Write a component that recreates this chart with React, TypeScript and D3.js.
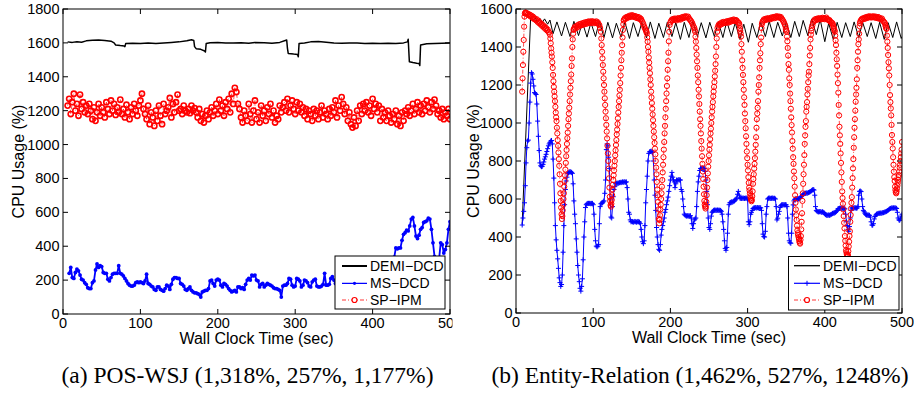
import React, { useEffect } from 'react';
import * as d3 from 'd3';

type Pt = [number, number];

// ---------- shared labels / ticks ----------
const X_TICKS = [0, 100, 200, 300, 400, 500];
const Y_TICKS_A = [0, 200, 400, 600, 800, 1000, 1200, 1400, 1600, 1800];
const Y_TICKS_B = [0, 200, 400, 600, 800, 1000, 1200, 1400, 1600];
const LEGEND_LABELS = ['DEMI\u2212DCD', 'MS\u2212DCD', 'SP\u2212IPM'];
const X_LABEL = 'Wall Clock Time (sec)';
const Y_LABEL = 'CPU Usage (%)';
const CAPTION_A = '(a) POS-WSJ (1,318%, 257%, 1,177%)';
const CAPTION_B = '(b) Entity-Relation (1,462%, 527%, 1248%)';

// ---------- panel (a) POS-WSJ ----------
const DEMI_A: Pt[] = [
  [6, 1606], [12, 1603], [18, 1607], [24, 1604], [30, 1612], [38, 1615], [46, 1617], [54, 1614], [62, 1610],
  [66, 1600], [68, 1588], [74, 1584], [79, 1582], [80, 1578], [81, 1596], [90, 1598], [100, 1596], [110, 1599],
  [120, 1597], [130, 1599], [140, 1602], [150, 1606], [160, 1612], [166, 1618], [169, 1614], [170, 1578],
  [172, 1566], [178, 1562], [183, 1552], [184, 1546], [185, 1596], [190, 1601], [200, 1602], [210, 1600],
  [220, 1599], [230, 1601], [240, 1598], [248, 1602], [260, 1601], [270, 1598], [280, 1603], [289, 1617],
  [290, 1568], [291, 1538], [298, 1534], [303, 1532], [304, 1518], [305, 1597], [312, 1600], [320, 1606],
  [330, 1608], [340, 1604], [350, 1600], [360, 1598], [370, 1600], [380, 1599], [390, 1597], [400, 1598],
  [410, 1596], [420, 1598], [430, 1596], [440, 1600], [445, 1606], [446, 1621], [447.5, 1489], [452, 1484],
  [457, 1480], [460, 1478], [461, 1466], [462, 1588], [470, 1595], [480, 1597], [490, 1598], [500, 1600],
];

const MS_A_T0 = 8;
const MS_A_DT = 2;
const MS_A = [
  240, 275, 215, 210, 245, 265, 255, 230, 205, 200,
  185, 175, 155, 150, 150, 185, 195, 260, 295, 275,
  285, 280, 245, 240, 240, 205, 195, 215, 235, 240,
  240, 240, 285, 240, 235, 225, 210, 195, 180, 170,
  165, 165, 170, 185, 190, 185, 190, 185, 180, 195,
  235, 180, 175, 165, 160, 145, 140, 160, 160, 145,
  140, 135, 150, 170, 165, 145, 175, 205, 215, 215,
  210, 210, 180, 175, 165, 145, 140, 150, 160, 140,
  130, 125, 125, 120, 115, 100, 130, 135, 140, 140,
  150, 195, 200, 180, 165, 200, 205, 200, 170, 160,
  180, 175, 165, 150, 140, 130, 135, 140, 130, 160,
  160, 150, 155, 145, 175, 200, 210, 200, 230, 225,
  230, 200, 195, 160, 175, 180, 160, 170, 180, 175,
  170, 165, 155, 150, 150, 145, 140, 100, 165, 170,
  170, 180, 210, 205, 170, 160, 165, 210, 205, 195,
  160, 170, 200, 195, 185, 165, 160, 190, 200, 205,
  165, 160, 160, 165, 175, 240, 170, 170, 175, 210,
  220, 200, 180, 175, 170, 180, 175, 170, 180, 185,
  175, 180, 190, 185, 180, 175, 180, 190, 200, 195,
  200, 210, 220, 215, 210, 230, 240, 235, 250, 260,
  255, 250, 265, 280, 270, 290, 300, 310, 320, 330,
  335, 390, 385, 390, 390, 435, 470, 480, 495, 490,
  520, 560, 570, 520, 460, 445, 465, 500, 510, 540,
  545, 550, 565, 560, 500, 420, 340, 300, 290, 330,
  420, 410, 360, 380, 420, 500, 545,
];

const SP_A_T0 = 6;
const SP_A_DT = 2;
const SP_A = [
  1230, 1270, 1180, 1250, 1300, 1200, 1240, 1170, 1295, 1210,
  1250, 1190, 1230, 1180, 1240, 1200, 1150, 1220, 1140, 1190,
  1240, 1170, 1220, 1190, 1160, 1250, 1210, 1180, 1260, 1200,
  1240, 1175, 1220, 1190, 1265, 1180, 1210, 1160, 1235, 1190,
  1150, 1220, 1180, 1240, 1200, 1170, 1230, 1260, 1300, 1210,
  1180, 1150, 1230, 1120, 1190, 1160, 1110, 1200, 1140, 1230,
  1170, 1120, 1240, 1180, 1200, 1220, 1275, 1160, 1240, 1190,
  1250, 1295, 1200, 1210, 1180, 1230, 1200, 1190, 1210, 1185,
  1230, 1200, 1215, 1190, 1160, 1210, 1140, 1180, 1130, 1170,
  1200, 1150, 1190, 1220, 1170, 1200, 1240, 1180, 1265, 1200,
  1230, 1170, 1250, 1210, 1270, 1190, 1300, 1240, 1335, 1310,
  1240, 1210, 1160, 1130, 1200, 1170, 1140, 1240, 1180, 1130,
  1200, 1260, 1150, 1190, 1130, 1230, 1170, 1200, 1140, 1220,
  1180, 1240, 1160, 1200, 1130, 1170, 1150, 1230, 1190, 1220,
  1250, 1200, 1270, 1190, 1230, 1260, 1210, 1180, 1250, 1200,
  1240, 1190, 1220, 1170, 1210, 1150, 1200, 1180, 1140, 1210,
  1170, 1200, 1150, 1190, 1230, 1160, 1200, 1180, 1150, 1210,
  1170, 1220, 1190, 1260, 1160, 1230, 1200, 1280, 1240, 1180,
  1220, 1140, 1190, 1120, 1100, 1160, 1110, 1200, 1140, 1230,
  1180, 1240, 1200, 1250, 1190, 1230, 1170, 1270, 1210, 1240,
  1190, 1230, 1140, 1210, 1160, 1190, 1140, 1200, 1170, 1130,
  1180, 1150, 1200, 1120, 1170, 1110, 1190, 1140, 1200, 1180,
  1220, 1170, 1200, 1240, 1180, 1210, 1250, 1190, 1230, 1180,
  1240, 1200, 1260, 1220, 1190, 1250, 1210, 1265, 1230, 1180,
  1200, 1160, 1210, 1150, 1190, 1170, 1210, 1150,
];

// ---------- panel (b) Entity-Relation ----------
const DEMI_B: Pt[] = [
  [8, 470], [19, 1558], [22, 1538], [25, 1552], [28, 1530], [31, 1550], [34, 1528], [37, 1548], [41, 1520],
  [44, 1542], [48, 1470], [53, 1532], [59, 1458], [64, 1530], [70, 1455], [75, 1535], [81, 1460], [86, 1530],
  [92, 1452], [97, 1528], [103, 1455], [108, 1535], [114, 1450], [119, 1530], [125, 1448], [130, 1525],
  [136, 1452], [141, 1532], [147, 1445], [152, 1528], [158, 1455], [163, 1530], [169, 1448], [174, 1532],
  [180, 1445], [185, 1525], [191, 1450], [196, 1530], [202, 1455], [207, 1528], [213, 1440], [218, 1530],
  [224, 1450], [229, 1535], [235, 1455], [240, 1528], [246, 1448], [251, 1530], [257, 1455], [262, 1532],
  [268, 1450], [273, 1535], [279, 1455], [284, 1528], [290, 1440], [295, 1520], [301, 1425], [306, 1525],
  [312, 1450], [317, 1530], [323, 1455], [328, 1535], [334, 1450], [339, 1530], [345, 1458], [350, 1532],
  [356, 1450], [361, 1535], [367, 1455], [372, 1540], [378, 1460], [383, 1548], [389, 1465], [394, 1545],
  [400, 1428], [405, 1525], [411, 1440], [416, 1530], [422, 1450], [427, 1528], [433, 1455], [438, 1532],
  [444, 1450], [449, 1530], [455, 1455], [460, 1528], [466, 1445], [471, 1530], [477, 1440], [482, 1528],
  [488, 1450], [493, 1532], [499, 1445], [500, 1455],
];

const MS_B_T0 = 8;
const MS_B_DT = 1;
const MS_B = [
  463, 500, 535, 580, 670, 790, 870, 905, 910, 1000,
  1110, 1210, 1265, 1258, 1230, 1195, 1160, 1156, 1150, 1100,
  1010, 930, 855, 790, 775, 770, 772, 782, 795, 810,
  822, 835, 850, 865, 880, 890, 898, 905, 908, 890,
  810, 710, 580, 460, 385, 330, 285, 235, 185, 160,
  140, 150, 200, 320, 460, 570, 650, 695, 715, 733,
  738, 742, 744, 742, 740, 735, 680, 590, 520, 470,
  390, 320, 250, 200, 165, 130, 115, 140, 180, 280,
  400, 480, 555, 570, 575, 577, 577, 577, 577, 575,
  577, 577, 570, 520, 440, 380, 352, 348, 352, 360,
  470, 560, 575, 578, 580, 585, 590, 630, 700, 860,
  890, 880, 820, 760, 600, 505, 500, 560, 612, 650,
  665, 680, 682, 684, 682, 684, 686, 688, 686, 688,
  690, 688, 690, 690, 688, 690, 660, 600, 530, 520,
  490, 480, 482, 480, 478, 480, 482, 480, 478, 480,
  482, 480, 478, 470, 440, 400, 375, 365, 380, 460,
  580, 650, 720, 800, 840, 848, 850, 852, 848, 845,
  800, 700, 620, 540, 450, 400, 360, 335, 330, 360,
  410, 440, 460, 480, 500, 530, 545, 570, 590, 610,
  640, 670, 700, 720, 740, 715, 700, 690, 660, 680,
  700, 698, 700, 702, 700, 700, 650, 640, 600, 560,
  520, 515, 512, 510, 512, 510, 512, 510, 512, 500,
  470, 445, 470, 490, 495, 500, 560, 640, 690, 720,
  750, 760, 762, 762, 760, 762, 760, 745, 700, 640,
  570, 500, 450, 440, 470, 510, 530, 535, 540, 542,
  540, 542, 540, 542, 540, 542, 540, 540, 535, 520,
  480, 440, 380, 340, 330, 345, 420, 520, 570, 580,
  582, 585, 583, 585, 588, 590, 595, 600, 605, 625,
  640, 620, 605, 604, 603, 604, 605, 604, 603, 604,
  605, 604, 600, 480, 465, 480, 520, 530, 540, 550,
  553, 553, 555, 553, 553, 555, 553, 553, 555, 553,
  540, 470, 415, 402, 400, 430, 520, 560, 600, 604,
  605, 604, 603, 604, 605, 604, 603, 604, 600, 560,
  490, 499, 520, 535, 555, 565, 569, 570, 569, 570,
  569, 570, 569, 560, 500, 420, 380, 370, 367, 420,
  520, 569, 590, 598, 600, 602, 600, 602, 600, 602,
  605, 612, 615, 620, 625, 628, 630, 630, 632, 630,
  632, 634, 636, 638, 640, 645, 648, 650, 647, 620,
  560, 540, 535, 533, 532, 533, 534, 532, 530, 533,
  530, 528, 522, 518, 515, 514, 515, 516, 514, 516,
  518, 520, 524, 526, 525, 528, 530, 535, 540, 548,
  550, 551, 552, 550, 551, 552, 550, 551, 548, 520,
  480, 460, 440, 430, 455, 500, 540, 553, 553, 552,
  553, 554, 553, 552, 553, 560, 620, 640, 642, 639,
  600, 560, 540, 533, 525, 518, 516, 515, 516, 515,
  514, 505, 480, 463, 462, 470, 495, 508, 515, 520,
  522, 524, 525, 525, 526, 525, 526, 528, 528, 530,
  532, 533, 535, 538, 540, 545, 548, 550, 552, 553,
  552, 553, 553, 552, 553, 550, 530, 500, 490, 488,
  495, 510, 520,
];

// SP-IPM (b): segments of [start time, sample step, values]
const SP_B_RISE = [1165, 1235, 1305, 1375, 1437, 1507, 1560, 1577, 1580, 1582, 1578];
const SP_B_PLAT1 = [1578, 1570, 1574, 1566, 1570, 1560, 1565, 1555, 1560, 1548, 1552, 1545, 1540, 1546, 1532,
  1538, 1525, 1530, 1518, 1522, 1510, 1515, 1503, 1508, 1495, 1500, 1488, 1492, 1480, 1476];
const SP_B_DIP1 = [1465, 1445, 1420, 1393, 1370, 1350, 1320, 1290, 1253, 1220, 1190, 1165, 1140, 1115, 1085, 1055,
  1030, 1010, 975, 945, 910, 880, 845, 810, 775, 730, 680, 630, 590, 555, 520, 495,
  510, 540, 570, 600, 630, 665, 695, 725, 755, 790, 825, 858, 890, 920, 950, 985, 1020, 1050, 1080, 1115,
  1150, 1185, 1220, 1255, 1300, 1340, 1400, 1440, 1470, 1490];
const SP_B_PLAT2 = [1495, 1505, 1498, 1510, 1502, 1515, 1508, 1520, 1512, 1522, 1515, 1525, 1518, 1528, 1520,
  1530, 1522, 1532, 1525, 1535, 1528, 1533, 1526, 1536, 1530, 1534, 1525, 1532, 1528, 1535, 1526, 1530, 1520,
  1515, 1500];
const SP_B_DIP2 = [1480, 1445, 1410, 1375, 1340, 1305, 1270, 1235, 1200, 1165, 1130, 1095, 1060, 1025, 990, 955,
  919, 880, 840, 800, 760, 709, 660, 612, 590, 568, 560, 575, 595,
  620, 650, 675, 700, 725, 750, 775, 800, 830, 856, 884, 910, 940, 965, 995, 1025, 1055, 1085, 1115, 1145,
  1175, 1210, 1250, 1290, 1330, 1370, 1410, 1450, 1490, 1520, 1540];
const SP_B_PLAT3 = [1545, 1552, 1548, 1558, 1553, 1560, 1556, 1565, 1558, 1562, 1568, 1560, 1565, 1558, 1563,
  1555, 1560, 1552, 1558, 1550, 1555, 1545, 1548, 1538, 1530, 1520, 1508, 1498];
const SP_B_DIP3 = [1490, 1485, 1480, 1472, 1450, 1428, 1400, 1375, 1345, 1318, 1290, 1262, 1230, 1200, 1165, 1135,
  1105, 1075, 1045, 1015, 985, 955, 925, 895, 865, 835, 800, 765, 730, 690, 650, 620, 585, 545, 495, 472, 490, 515,
  545, 570, 600, 630, 665, 700, 740, 780, 820, 860, 900, 945, 985, 1030, 1075, 1115, 1155, 1195, 1235, 1280,
  1325, 1370, 1430, 1480, 1516];
const SP_B_PLAT4 = [1530, 1538, 1545, 1540, 1548, 1542, 1550, 1545, 1540, 1548, 1552, 1546, 1550, 1544, 1555,
  1550, 1558, 1552, 1560, 1556, 1562, 1558, 1555, 1560, 1550, 1546, 1540, 1535, 1528, 1518, 1508];
const SP_B_DIP4 = [1500, 1490, 1481, 1455, 1428, 1395, 1360, 1325, 1290, 1250, 1215, 1175, 1140, 1100, 1060, 1020,
  985, 945, 905, 865, 825, 785, 745, 705, 665, 625, 590, 570, 560, 550, 560, 585, 620, 660, 700, 735, 770, 800,
  830, 860, 885, 915, 945, 970, 1000, 1030, 1060, 1085, 1110, 1140, 1165, 1190, 1215, 1245, 1275, 1310, 1350,
  1400, 1445, 1480];
const SP_B_PLAT5 = [1500, 1512, 1520, 1515, 1525, 1520, 1530, 1524, 1532, 1528, 1526, 1534, 1530, 1536, 1528,
  1538, 1532, 1540, 1535, 1542, 1538, 1545, 1540, 1536, 1542, 1538, 1532, 1528];
const SP_B_DIP5 = [1525, 1515, 1498, 1485, 1470, 1455, 1415, 1375, 1330, 1290, 1253, 1215, 1175, 1135, 1095, 1050,
  1010, 972, 930, 890, 850, 815, 780, 750, 715, 685, 660, 645, 630, 615, 603, 595, 588, 595, 615, 640, 680, 705,
  730, 760, 785, 815, 849, 885, 925, 975, 1020, 1050, 1080, 1115, 1165, 1200, 1240, 1290, 1330, 1367, 1415,
  1450, 1500, 1520];
const SP_B_PLAT6 = [1530, 1538, 1545, 1540, 1548, 1543, 1550, 1546, 1552, 1548, 1545, 1552, 1556, 1550, 1555,
  1558, 1552, 1560, 1555, 1562, 1558, 1556, 1560, 1554, 1558, 1550, 1545, 1538, 1530, 1520];
const SP_B_DIP6 = [1510, 1495, 1488, 1481, 1455, 1430, 1395, 1355, 1310, 1280, 1235, 1200, 1155, 1115, 1075, 1030,
  989, 950, 905, 865, 820, 785, 745, 709, 665, 620, 580, 545, 515, 490, 460, 435, 420, 410, 400, 390, 378, 370,
  365, 385, 405, 440, 480, 525, 590, 630, 680, 730, 780, 831, 890, 935, 980, 1010, 1060, 1085, 1110, 1150, 1180,
  1215, 1250, 1270, 1310, 1355, 1395, 1440, 1465, 1485, 1500];
const SP_B_PLAT7 = [1515, 1530, 1538, 1545, 1540, 1548, 1544, 1550, 1546, 1552, 1548, 1545, 1550, 1554, 1548,
  1552, 1546, 1550, 1555, 1548, 1545, 1540, 1542, 1535, 1530, 1528];
const SP_B_DIP7 = [1525, 1518, 1510, 1500, 1495, 1488, 1481, 1460, 1435, 1410, 1370, 1335, 1300, 1255, 1210, 1160,
  1095, 1040, 980, 935, 890, 840, 790, 740, 690, 640, 605, 575, 545, 510, 475, 445, 405, 380, 355, 330, 320, 310,
  303, 297, 305, 325, 350, 375, 405, 430, 480, 516, 550, 580, 610, 660, 710, 761, 810, 870, 925, 975, 1020, 1065,
  1112, 1150, 1185, 1230, 1290, 1330, 1375, 1415, 1440, 1470, 1510, 1525];
const SP_B_PLAT8 = [1535, 1542, 1548, 1545, 1552, 1548, 1555, 1550, 1558, 1553, 1560, 1556, 1562, 1558, 1555,
  1560, 1557, 1562, 1558, 1554, 1560, 1556, 1552, 1558, 1550, 1554, 1548, 1545, 1550, 1540, 1535, 1530];
const SP_B_DIP8 = [1525, 1515, 1508, 1500, 1495, 1460, 1428, 1395, 1358, 1320, 1288, 1250, 1200, 1147, 1110, 1077,
  1040, 990, 937, 900, 866, 820, 780, 744, 715, 695, 665, 647, 635, 630, 640, 655, 670, 685, 700, 715, 726, 745,
  765, 780, 800, 820, 840, 860, 900];

const SP_B_SEGMENTS: [number, number, number[]][] = [
  [8, 0.5, SP_B_RISE], [14, 1, SP_B_PLAT1], [44, 0.5, SP_B_DIP1], [75, 1, SP_B_PLAT2],
  [110, 0.5, SP_B_DIP2], [140, 1, SP_B_PLAT3], [168, 0.5, SP_B_DIP3], [200, 1, SP_B_PLAT4],
  [231, 0.5, SP_B_DIP4], [261, 1, SP_B_PLAT5], [289, 0.5, SP_B_DIP5], [319, 1, SP_B_PLAT6],
  [349, 0.5, SP_B_DIP6], [384, 1, SP_B_PLAT7], [410, 0.5, SP_B_DIP7], [446, 1, SP_B_PLAT8],
  [478, 0.5, SP_B_DIP8],
];

// ---------- helpers ----------
const sampled = (t0: number, dt: number, vals: number[]): Pt[] => vals.map((v, i) => [t0 + i * dt, v] as Pt);

const SANS = 'Liberation Sans, Arial, Helvetica, sans-serif';
const SERIF = 'Liberation Serif, Times New Roman, Times, serif';
const BLUE = '#0000ff';
const RED = '#ff0000';

interface PanelProps {
  id: string;
  x0: number; x1: number; yTop: number; yBot: number; yMax: number;
  yTicks: number[];
  demi: Pt[]; ms: Pt[]; sp: Pt[];
  msMarker: 'dot' | 'plus';
  demiWidth: number;
  spWidth: number;
  yLabelX: number;
  legend: { x: number; y: number; w: number; h: number; lx1: number; lx2: number; tx: number; rows: number[] };
  caption: string; captionX: number;
  clipRight?: number;
}

function Panel(p: PanelProps) {
  const x = d3.scaleLinear().domain([0, 500]).range([p.x0, p.x1]);
  const y = d3.scaleLinear().domain([0, p.yMax]).range([p.yBot, p.yTop]);
  const line = d3.line<Pt>().x(d => x(d[0])).y(d => y(d[1]));
  const plusPath = p.ms.map(d => {
    const cx = x(d[0]), cy = y(d[1]);
    return `M${cx - 2.5},${cy}h5M${cx},${cy - 2.5}v5`;
  }).join('');
  const L = p.legend;
  const lmid = (L.lx1 + L.lx2) / 2;
  const tickLen = 5;
  return (
    <g clipPath={p.clipRight ? `url(#panel-${p.id})` : undefined}>
      {p.clipRight && (
        <defs>
          <clipPath id={`panel-${p.id}`}><rect x={0} y={0} width={p.clipRight} height={394} /></clipPath>
        </defs>
      )}
      <defs>
        <clipPath id={`plot-${p.id}`}>
          <rect x={p.x0} y={p.yTop} width={p.x1 - p.x0} height={p.yBot - p.yTop} />
        </clipPath>
      </defs>
      <rect x={p.x0} y={p.yTop} width={p.x1 - p.x0} height={p.yBot - p.yTop} fill="#fff" />
      <g clipPath={`url(#plot-${p.id})`}>
        <path d={line(p.demi) || ''} fill="none" stroke="#000" strokeWidth={p.demiWidth} strokeLinejoin="round" />
        <path d={line(p.ms) || ''} fill="none" stroke={BLUE} strokeWidth={p.msMarker === 'dot' ? 1.8 : 1} strokeLinejoin="round" />
        {p.msMarker === 'dot'
          ? p.ms.map((d, i) => <circle key={i} cx={x(d[0])} cy={y(d[1])} r={1.9} fill={BLUE} />)
          : <path d={plusPath} stroke={BLUE} strokeWidth={1} fill="none" />}
        <path d={line(p.sp) || ''} fill="none" stroke={RED} strokeWidth={0.7} strokeDasharray="4 2 1 2" />
        {p.sp.map((d, i) => (
          <circle key={i} cx={x(d[0])} cy={y(d[1])} r={2.6} fill="none" stroke={RED} strokeWidth={p.spWidth} />
        ))}
      </g>
      {/* axes box */}
      <rect x={p.x0} y={p.yTop} width={p.x1 - p.x0} height={p.yBot - p.yTop} fill="none" stroke="#000" strokeWidth={1} />
      {X_TICKS.map(t => (
        <g key={`xt${t}`}>
          <line x1={x(t)} x2={x(t)} y1={p.yBot} y2={p.yBot - tickLen} stroke="#000" />
          <line x1={x(t)} x2={x(t)} y1={p.yTop} y2={p.yTop + tickLen} stroke="#000" />
          <text x={x(t)} y={p.yBot + 14} textAnchor="middle" fontFamily={SANS} fontSize={14.5} fill="#000">{t}</text>
        </g>
      ))}
      {p.yTicks.map(t => (
        <g key={`yt${t}`}>
          <line x1={p.x0} x2={p.x0 + tickLen} y1={y(t)} y2={y(t)} stroke="#000" />
          <line x1={p.x1} x2={p.x1 - tickLen} y1={y(t)} y2={y(t)} stroke="#000" />
          <text x={p.x0 - 3.5} y={y(t) + 5} textAnchor="end" fontFamily={SANS} fontSize={14.5} fill="#000">{t}</text>
        </g>
      ))}
      <text x={(p.x0 + p.x1) / 2} y={p.yBot + 29.5} textAnchor="middle" fontFamily={SANS} fontSize={16} fill="#000">{X_LABEL}</text>
      <text transform={`translate(${p.yLabelX},${(p.yTop + p.yBot) / 2}) rotate(-90)`} textAnchor="middle" fontFamily={SANS} fontSize={16} fill="#000">{Y_LABEL}</text>
      {/* legend */}
      <rect x={L.x} y={L.y} width={L.w} height={L.h} fill="#fff" stroke="#000" strokeWidth={1} />
      <line x1={L.lx1} x2={L.lx2} y1={L.rows[0]} y2={L.rows[0]} stroke="#000" strokeWidth={p.demiWidth + 0.3} />
      <line x1={L.lx1} x2={L.lx2} y1={L.rows[1]} y2={L.rows[1]} stroke={BLUE} strokeWidth={1.2} />
      {p.msMarker === 'dot'
        ? <circle cx={lmid} cy={L.rows[1]} r={1.6} fill={BLUE} />
        : <path d={`M${lmid - 2.5},${L.rows[1]}h5M${lmid},${L.rows[1] - 2.5}v5`} stroke={BLUE} strokeWidth={1} />}
      <line x1={L.lx1} x2={L.lx2} y1={L.rows[2]} y2={L.rows[2]} stroke={RED} strokeWidth={0.8} strokeDasharray="4 2 1 2" />
      <circle cx={lmid} cy={L.rows[2]} r={2.5} fill="#fff" stroke={RED} strokeWidth={1.2} />
      {LEGEND_LABELS.map((lab, i) => (
        <text key={lab} x={L.tx} y={L.rows[i] + 5} fontFamily={SANS} fontSize={14} fill="#000">{lab}</text>
      ))}
      <text x={p.captionX} y={383} textAnchor="middle" fontFamily={SERIF} fontSize={23.5} fill="#000">{p.caption}</text>
    </g>
  );
}

export default function App() {
  useEffect(() => {
    document.body.style.margin = '0';
  }, []);
  const msA = sampled(MS_A_T0, MS_A_DT, MS_A);
  const spA = sampled(SP_A_T0, SP_A_DT, SP_A);
  const msB = sampled(MS_B_T0, MS_B_DT, MS_B);
  const spB: Pt[] = SP_B_SEGMENTS.flatMap(([t0, dt, vals]) => sampled(t0, dt, vals));
  return (
    <svg width={914} height={394} viewBox="0 0 914 394" style={{ position: 'absolute', left: 0, top: 0, background: '#fff' }}>
      <rect x={0} y={0} width={914} height={394} fill="#fff" />
      <Panel
        id="a" x0={63} x1={450} yTop={9} yBot={314} yMax={1800} yTicks={Y_TICKS_A}
        demi={DEMI_A} ms={msA} sp={spA} msMarker="dot" demiWidth={1.5} spWidth={1.6}
        yLabelX={24}
        legend={{ x: 335, y: 256, w: 110, h: 53, lx1: 342, lx2: 367, tx: 370, rows: [266, 283.3, 300] }}
        caption={CAPTION_A} captionX={247.5} clipRight={452.5}
      />
      <Panel
        id="b" x0={516} x1={902} yTop={9} yBot={313} yMax={1600} yTicks={Y_TICKS_B}
        demi={DEMI_B} ms={msB} sp={spB} msMarker="plus" demiWidth={1} spWidth={1}
        yLabelX={479}
        legend={{ x: 788.5, y: 256.5, w: 110.5, h: 53.5, lx1: 794, lx2: 820, tx: 823, rows: [265.7, 283.3, 300] }}
        caption={CAPTION_B} captionX={700}
      />
    </svg>
  );
}
